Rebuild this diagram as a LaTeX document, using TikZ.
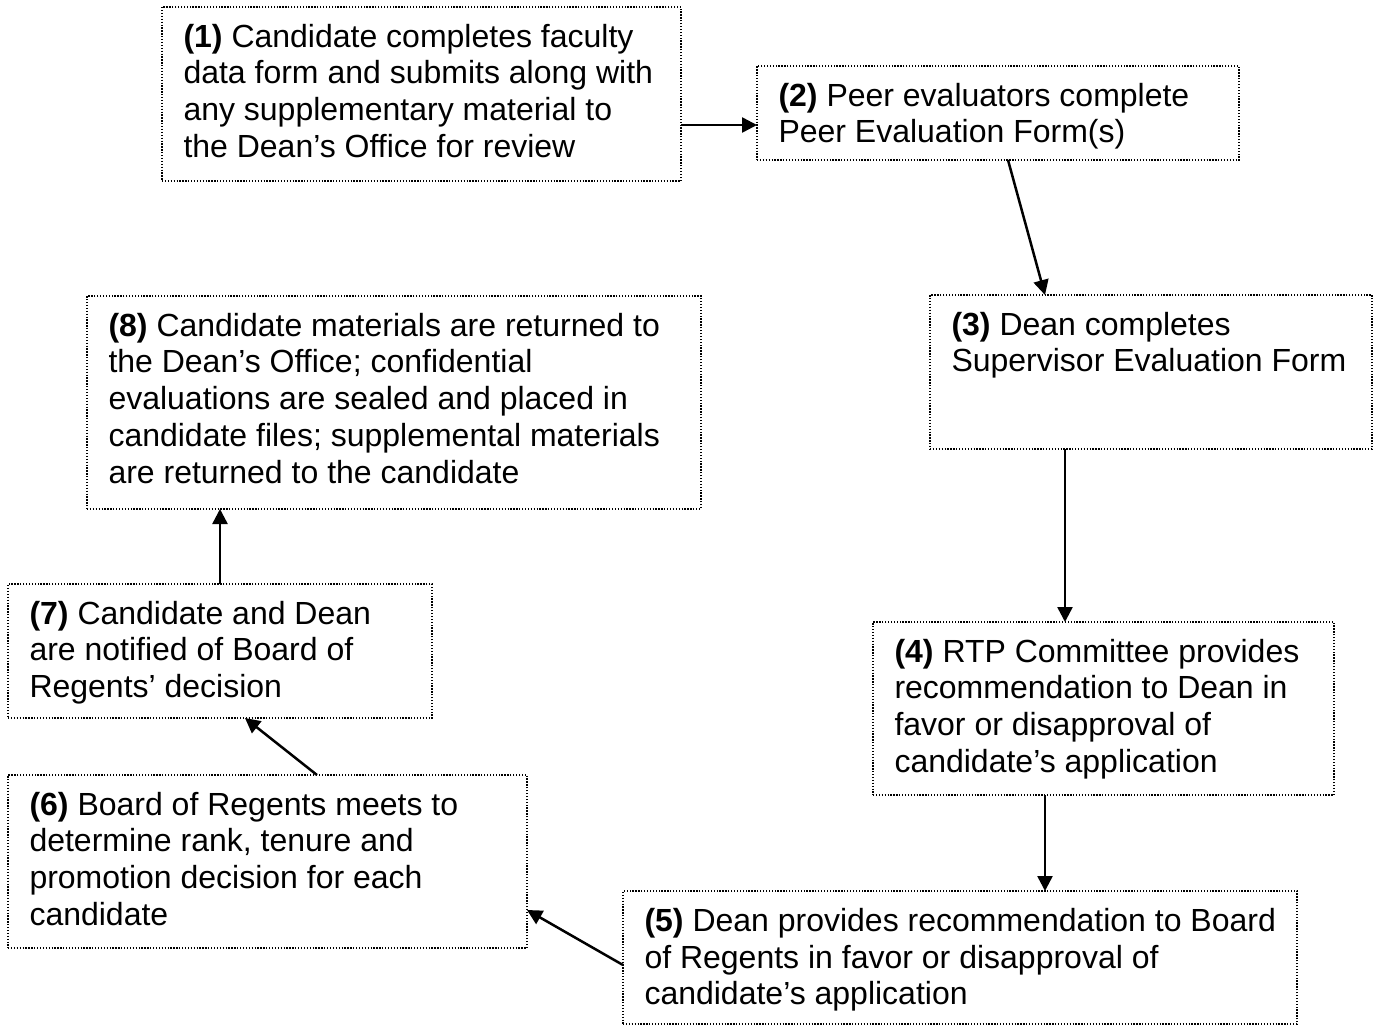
\documentclass[tikz,border=0pt]{standalone}
\usepackage{fontspec}
\setmainfont{Liberation Sans}
\usetikzlibrary{arrows.meta}
\begin{document}
\begin{tikzpicture}[x=1pt,y=-1pt,
  stepbox/.style={draw=black, line width=1.4pt, dash pattern=on 1.3pt off 1.6pt,
    anchor=north west, inner xsep=21.5pt, inner ysep=17pt, outer sep=0pt,
    font=\fontsize{32}{36.8}\selectfont},
  arr/.style={line width=2.5pt, -{Triangle[length=15pt,width=15pt]}}]
\useasboundingbox (0,0) rectangle (1377,1026);
\fill[white] (0,0) rectangle (1377,1026);

\node[stepbox] (b1) at (162,7) {\parbox[t][140pt][t]{476pt}{%
\mbox{\textbf{(1)} Candidate completes faculty}\\
\mbox{data form and submits along with}\\
\mbox{any supplementary material to}\\
\mbox{the Dean’s Office for review}}};

\node[stepbox] (b2) at (757,66) {\parbox[t][60pt][t]{439pt}{%
\mbox{\textbf{(2)} Peer evaluators complete}\\
\mbox{Peer Evaluation Form(s)}}};

\node[stepbox] (b3) at (930,295) {\parbox[t][120pt][t]{399pt}{%
\mbox{\textbf{(3)} Dean completes}\\
\mbox{Supervisor Evaluation Form}}};

\node[stepbox] (b4) at (873,622) {\parbox[t][139pt][t]{418pt}{%
\mbox{\textbf{(4)} RTP Committee provides}\\
\mbox{recommendation to Dean in}\\
\mbox{favor or disapproval of}\\
\mbox{candidate’s application}}};

\node[stepbox] (b5) at (623,891) {\parbox[t][99pt][t]{631pt}{%
\mbox{\textbf{(5)} Dean provides recommendation to Board}\\
\mbox{of Regents in favor or disapproval of}\\
\mbox{candidate’s application}}};

\node[stepbox] (b6) at (8,775) {\parbox[t][139pt][t]{476pt}{%
\mbox{\textbf{(6)} Board of Regents meets to}\\
\mbox{determine rank, tenure and}\\
\mbox{promotion decision for each}\\
\mbox{candidate}}};

\node[stepbox] (b7) at (8,584) {\parbox[t][100pt][t]{381pt}{%
\mbox{\textbf{(7)} Candidate and Dean}\\
\mbox{are notified of Board of}\\
\mbox{Regents’ decision}}};

\node[stepbox] (b8) at (87,296) {\parbox[t][179pt][t]{571pt}{%
\mbox{\textbf{(8)} Candidate materials are returned to}\\
\mbox{the Dean’s Office; confidential}\\
\mbox{evaluations are sealed and placed in}\\
\mbox{candidate files; supplemental materials}\\
\mbox{are returned to the candidate}}};

\draw[arr] ([yshift=-118pt]b1.north east) -- ([yshift=-59pt]b2.north west);
\draw[arr] ([xshift=251pt]b2.south west) -- ([xshift=115pt]b3.north west);
\draw[arr] ([xshift=135pt]b3.south west) -- ([xshift=192pt]b4.north west);
\draw[arr] ([xshift=172pt]b4.south west) -- ([xshift=422pt]b5.north west);
\draw[arr] ([yshift=-74pt]b5.north west) -- ([yshift=-135pt]b6.north east);
\draw[arr] ([xshift=309pt]b6.north west) -- ([xshift=237pt]b7.south west);
\draw[arr] ([xshift=212pt]b7.north west) -- ([xshift=133pt]b8.south west);
\end{tikzpicture}
\end{document}
